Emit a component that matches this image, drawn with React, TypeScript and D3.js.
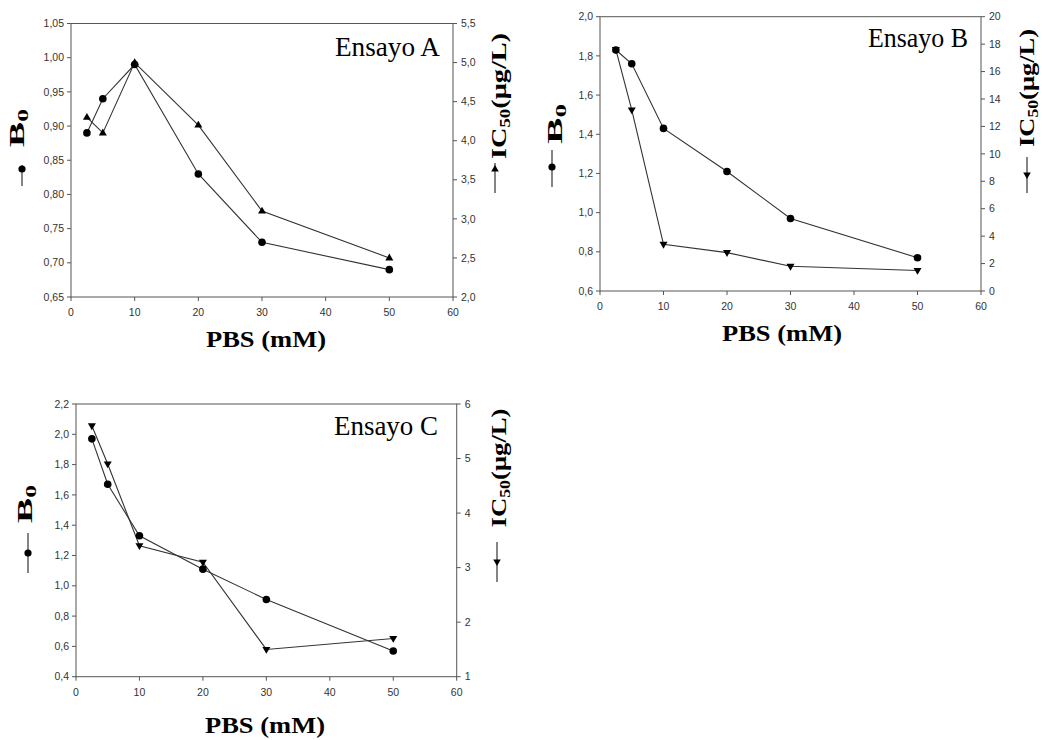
import React from "react";
import * as d3 from "d3";

// ---------- DATA ----------
const pbs = [2.5, 5, 10, 20, 30, 50];
const b0A = [0.89, 0.94, 0.99, 0.83, 0.73, 0.69];
const ic50A = [4.3, 4.1, 5.0, 4.2, 3.1, 2.5];
const b0B = [1.83, 1.76, 1.43, 1.21, 0.97, 0.77];
const ic50B = [17.6, 13.2, 3.4, 2.8, 1.8, 1.5];
const b0C = [1.97, 1.67, 1.33, 1.11, 0.91, 0.57];
const ic50C = [5.6, 4.9, 3.4, 3.1, 1.5, 1.7];

const xTicks = [0, 10, 20, 30, 40, 50, 60];
const leftTicksA = [0.65, 0.7, 0.75, 0.8, 0.85, 0.9, 0.95, 1.0, 1.05];
const rightTicksA = [2.0, 2.5, 3.0, 3.5, 4.0, 4.5, 5.0, 5.5];
const leftTicksB = [0.6, 0.8, 1.0, 1.2, 1.4, 1.6, 1.8, 2.0];
const rightTicksB = [0, 2, 4, 6, 8, 10, 12, 14, 16, 18, 20];
const leftTicksC = [0.4, 0.6, 0.8, 1.0, 1.2, 1.4, 1.6, 1.8, 2.0, 2.2];
const rightTicksC = [1, 2, 3, 4, 5, 6];

const titles = ["Ensayo A", "Ensayo B", "Ensayo C"];

// ---------- LAYOUT ----------
type Panel = {
  title: string;
  b0: number[];
  ic: number[];
  triUp: boolean;
  left: number; right: number; top: number; bottom: number;
  yL: [number, number]; yR: [number, number];
  lTicks: number[]; rTicks: number[];
  lFmt: string; rFmt: string;
  titleX: number; titleY: number; titleLen: number;
  xlabX: number; xlabY: number;
  b0X: number; b0Y: number; b0Len: number;
  b0Mk: [number, number, number, number]; // x, y1, y2, markerY
  icX: number; icY: number; icLen: number;
  icMk: [number, number, number, number];
};

const panels: Panel[] = [
  {
    title: titles[0], b0: b0A, ic: ic50A, triUp: true,
    left: 71, right: 453, top: 23.5, bottom: 297,
    yL: [0.65, 1.05], yR: [2.0, 5.5], lTicks: leftTicksA, rTicks: rightTicksA,
    lFmt: ".2f", rFmt: ".1f",
    titleX: 440, titleY: 56, titleLen: 105,
    xlabX: 266, xlabY: 347,
    b0X: 24, b0Y: 128, b0Len: 38,
    b0Mk: [22, 165, 186, 169],
    icX: 506, icY: 96, icLen: 126,
    icMk: [495, 163, 193, 169],
  },
  {
    title: titles[1], b0: b0B, ic: ic50B, triUp: false,
    left: 600, right: 981, top: 16.7, bottom: 291,
    yL: [0.6, 2.0], yR: [0, 20], lTicks: leftTicksB, rTicks: rightTicksB,
    lFmt: ".1f", rFmt: "d",
    titleX: 968, titleY: 47, titleLen: 100,
    xlabX: 782, xlabY: 341,
    b0X: 562, b0Y: 124, b0Len: 40,
    b0Mk: [552, 150, 187, 167],
    icX: 1034, icY: 88, icLen: 118,
    icMk: [1027, 157, 193, 175],
  },
  {
    title: titles[2], b0: b0C, ic: ic50C, triUp: false,
    left: 76, right: 456.7, top: 404, bottom: 676.7,
    yL: [0.4, 2.2], yR: [1, 6], lTicks: leftTicksC, rTicks: rightTicksC,
    lFmt: ".1f", rFmt: "d",
    titleX: 438, titleY: 435, titleLen: 104,
    xlabX: 265, xlabY: 733,
    b0X: 32, b0Y: 504, b0Len: 38,
    b0Mk: [28, 533, 573, 553],
    icX: 506, icY: 468, icLen: 119,
    icMk: [497, 542, 582, 562],
  },
];

const AXIS = "#555";
const TICK_TXT = "#333";
const LINE = "#333";
const SANS = "Liberation Sans, Arial, sans-serif";
const SERIF = "Liberation Serif, 'Times New Roman', serif";

const fmt = (f: string) => (v: number) => d3.format(f)(v).replace(".", ",");

function triPath(cx: number, cy: number, up: boolean, s = 4) {
  const h = s * 0.9;
  return up
    ? `M${cx - s},${cy + h * 0.7}L${cx + s},${cy + h * 0.7}L${cx},${cy - h * 1.2}Z`
    : `M${cx - s},${cy - h * 0.7}L${cx + s},${cy - h * 0.7}L${cx},${cy + h * 1.2}Z`;
}

function ChartPanel({ p }: { p: Panel }) {
  const x = d3.scaleLinear().domain([0, 60]).range([p.left, p.right]);
  const yl = d3.scaleLinear().domain(p.yL).range([p.bottom, p.top]);
  const yr = d3.scaleLinear().domain(p.yR).range([p.bottom, p.top]);
  const lineL = d3.line<number>().x((_, i) => x(pbs[i])).y((d) => yl(d));
  const lineR = d3.line<number>().x((_, i) => x(pbs[i])).y((d) => yr(d));
  const lf = fmt(p.lFmt);
  const rf = fmt(p.rFmt);
  return (
    <g>
      {/* frame */}
      <rect x={p.left} y={p.top} width={p.right - p.left} height={p.bottom - p.top}
        fill="none" stroke={AXIS} strokeWidth={1} />
      {/* bottom ticks */}
      {xTicks.map((t) => (
        <g key={"x" + t}>
          <line x1={x(t)} x2={x(t)} y1={p.bottom} y2={p.bottom + 4} stroke={AXIS} />
          <text x={x(t)} y={p.bottom + 19} textAnchor="middle" fontFamily={SANS}
            fontSize={10.5} fill={TICK_TXT}>{t}</text>
        </g>
      ))}
      {/* left ticks */}
      {p.lTicks.map((t) => (
        <g key={"l" + t}>
          <line x1={p.left - 4} x2={p.left} y1={yl(t)} y2={yl(t)} stroke={AXIS} />
          <text x={p.left - 7} y={yl(t)} dy="0.35em" textAnchor="end" fontFamily={SANS}
            fontSize={10.5} fill={TICK_TXT}>{lf(t)}</text>
        </g>
      ))}
      {/* right ticks */}
      {p.rTicks.map((t) => (
        <g key={"r" + t}>
          <line x1={p.right} x2={p.right + 4} y1={yr(t)} y2={yr(t)} stroke={AXIS} />
          <text x={p.right + 8} y={yr(t)} dy="0.35em" textAnchor="start" fontFamily={SANS}
            fontSize={10.5} fill={TICK_TXT}>{rf(t)}</text>
        </g>
      ))}
      {/* series lines */}
      <path d={lineL(p.b0) || ""} fill="none" stroke={LINE} strokeWidth={1.1} />
      <path d={lineR(p.ic) || ""} fill="none" stroke={LINE} strokeWidth={1.1} />
      {/* markers */}
      {p.b0.map((v, i) => (
        <circle key={"c" + i} cx={x(pbs[i])} cy={yl(v)} r={3.8} fill="#000" />
      ))}
      {p.ic.map((v, i) => (
        <path key={"t" + i} d={triPath(x(pbs[i]), yr(v), p.triUp)} fill="#000" />
      ))}
      {/* title */}
      <text x={p.titleX} y={p.titleY} textAnchor="end" fontFamily={SERIF} fontSize={27}
        fill="#000" textLength={p.titleLen} lengthAdjust="spacingAndGlyphs">{p.title}</text>
      {/* x label */}
      <text x={p.xlabX} y={p.xlabY} textAnchor="middle" fontFamily={SERIF} fontSize={23}
        fontWeight="bold" fill="#000" textLength={120} lengthAdjust="spacingAndGlyphs">PBS (mM)</text>
      {/* left y label */}
      <text transform={`translate(${p.b0X},${p.b0Y}) rotate(-90)`} textAnchor="middle"
        fontFamily={SERIF} fontSize={22} fontWeight="bold" fill="#000"
        textLength={p.b0Len} lengthAdjust="spacingAndGlyphs">
        B<tspan fontSize={15} dy={4}>0</tspan>
      </text>
      <line x1={p.b0Mk[0]} x2={p.b0Mk[0]} y1={p.b0Mk[1]} y2={p.b0Mk[2]} stroke="#333" strokeWidth={1.2} />
      <circle cx={p.b0Mk[0]} cy={p.b0Mk[3]} r={3.6} fill="#000" />
      {/* right y label */}
      <text transform={`translate(${p.icX},${p.icY}) rotate(-90)`} textAnchor="middle"
        fontFamily={SERIF} fontSize={21} fontWeight="bold" fill="#000"
        textLength={p.icLen} lengthAdjust="spacingAndGlyphs">
        IC<tspan fontSize={14} dy={4}>50</tspan><tspan dy={-4}>(μg/L)</tspan>
      </text>
      <line x1={p.icMk[0]} x2={p.icMk[0]} y1={p.icMk[1]} y2={p.icMk[2]} stroke="#333" strokeWidth={1.2} />
      <path d={triPath(p.icMk[0], p.icMk[3], p.triUp, 3.8)} fill="#000" />
    </g>
  );
}

export default function App() {
  return (
    <svg width={1042} height={740} viewBox="0 0 1042 740"
      style={{ position: "absolute", left: 0, top: 0, background: "#fff" }}>
      <rect x={0} y={0} width={1042} height={740} fill="#fff" />
      {panels.map((p, i) => (
        <ChartPanel key={i} p={p} />
      ))}
    </svg>
  );
}
